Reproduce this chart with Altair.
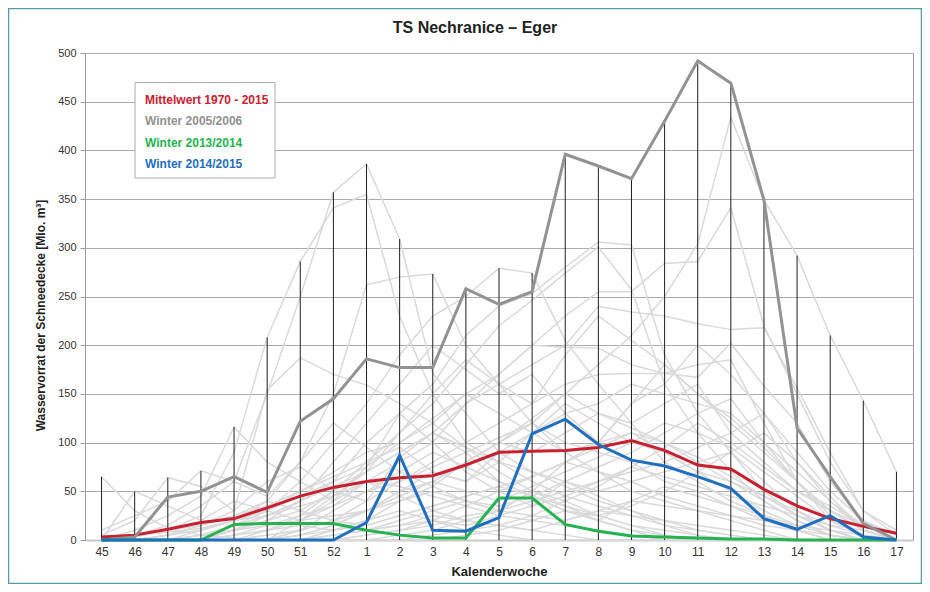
import altair as alt
import pandas as pd

chart_title = "TS Nechranice – Eger"

weeks = ["45", "46", "47", "48", "49", "50", "51", "52", "1", "2", "3", "4", "5",
         "6", "7", "8", "9", "10", "11", "12", "13", "14", "15", "16", "17"]

weekly_max = [65, 50, 64, 71, 116, 208, 286, 357, 386, 309, 273, 258, 279, 274,
              396, 384, 371, 430, 492, 469, 349, 292, 210, 143, 70]

mean_1970_2015 = [3, 5, 11, 18, 22, 33, 45, 54, 60, 64, 66, 77, 90, 91, 92, 95,
                  102, 92, 77, 73, 52, 35, 22, 14, 7]
winter_2005_06 = [0, 3, 44, 50, 65, 49, 122, 145, 186, 177, 177, 258, 242, 255,
                  396, 384, 371, 430, 492, 469, 349, 115, 65, 17, 0]
winter_2013_14 = [0, 0, 0, 0, 16, 17, 17, 17, 10, 5, 2, 2, 43, 43, 16, 9, 4, 3,
                  2, 1, 1, 0, 0, 0, 0]
winter_2014_15 = [0, 0, 0, 0, 0, 0, 0, 0, 18, 87, 10, 9, 23, 109, 124, 98, 82,
                  76, 65, 53, 22, 11, 25, 3, 0]

series_names = ["Mittelwert 1970 - 2015", "Winter 2005/2006",
                "Winter 2013/2014", "Winter 2014/2015"]
series_colors = ["#c8202f", "#929292", "#25b350", "#1f6fc1"]

other_winters = [
    [65, 30, 12, 5, 2, 0, 0, 5, 10, 15, 20, 10, 5, 0, 0, 0, 0, 0, 0, 0, 0, 0, 0, 0, 0],
    [0, 50, 35, 20, 40, 30, 20, 35, 60, 45, 30, 20, 15, 10, 5, 0, 0, 0, 0, 0, 0, 0, 0, 0, 0],
    [5, 20, 64, 55, 30, 60, 75, 50, 40, 85, 110, 90, 60, 45, 30, 20, 10, 5, 0, 0, 0, 0, 0, 0, 0],
    [10, 25, 40, 71, 60, 45, 80, 120, 95, 70, 55, 40, 30, 50, 35, 20, 10, 0, 0, 0, 0, 0, 0, 0, 0],
    [0, 10, 25, 45, 116, 80, 60, 40, 75, 130, 100, 70, 50, 35, 60, 45, 30, 15, 5, 0, 0, 0, 0, 0, 0],
    [0, 5, 15, 35, 60, 150, 250, 357, 386, 309, 171, 130, 90, 70, 55, 40, 30, 20, 10, 5, 0, 0, 0, 0, 0],
    [0, 3, 10, 25, 90, 208, 286, 341, 355, 230, 150, 100, 80, 60, 45, 35, 25, 15, 10, 5, 0, 0, 0, 0, 0],
    [0, 0, 5, 15, 30, 154, 187, 170, 159, 140, 120, 95, 70, 50, 40, 25, 15, 5, 0, 0, 0, 0, 0, 0, 0],
    [0, 0, 0, 10, 20, 40, 80, 150, 262, 270, 273, 200, 160, 120, 90, 70, 50, 40, 30, 20, 10, 0, 0, 0, 0],
    [0, 0, 0, 5, 15, 30, 60, 100, 140, 190, 230, 250, 279, 274, 205, 160, 120, 80, 60, 40, 25, 10, 0, 0, 0],
    [0, 0, 0, 0, 10, 20, 40, 60, 100, 130, 160, 210, 240, 253, 280, 306, 303, 190, 130, 90, 50, 25, 10, 0, 0],
    [0, 0, 0, 0, 5, 10, 25, 50, 80, 110, 140, 180, 220, 246, 274, 301, 257, 160, 110, 70, 40, 20, 5, 0, 0],
    [0, 0, 0, 0, 0, 10, 20, 40, 60, 80, 100, 140, 170, 200, 230, 255, 255, 284, 286, 341, 220, 150, 80, 30, 10],
    [0, 0, 0, 0, 0, 0, 10, 20, 30, 50, 60, 80, 100, 120, 150, 180, 210, 250, 304, 434, 349, 292, 210, 143, 70],
    [0, 0, 0, 5, 10, 20, 30, 50, 70, 90, 110, 140, 160, 180, 200, 240, 234, 230, 222, 216, 218, 156, 90, 30, 5],
    [0, 0, 5, 10, 20, 30, 50, 70, 90, 100, 120, 150, 170, 200, 198, 197, 180, 171, 167, 202, 158, 120, 60, 20, 0],
    [0, 0, 0, 0, 0, 5, 10, 20, 40, 60, 80, 100, 120, 140, 160, 170, 171, 171, 180, 185, 120, 60, 20, 5, 0],
    [0, 0, 0, 0, 0, 0, 5, 15, 30, 50, 70, 60, 90, 110, 130, 140, 160, 150, 140, 130, 100, 70, 40, 10, 0],
    [0, 0, 0, 0, 0, 0, 0, 10, 20, 40, 55, 80, 100, 90, 110, 130, 120, 140, 160, 110, 80, 50, 30, 15, 0],
    [0, 5, 10, 15, 25, 35, 50, 65, 80, 95, 70, 60, 80, 110, 140, 120, 100, 90, 70, 60, 40, 20, 5, 0, 0],
    [0, 0, 5, 10, 20, 30, 45, 60, 75, 100, 125, 150, 130, 110, 90, 100, 110, 90, 70, 50, 30, 15, 5, 0, 0],
    [0, 0, 0, 5, 15, 25, 40, 55, 70, 90, 110, 95, 80, 70, 60, 50, 60, 70, 80, 90, 60, 30, 10, 0, 0],
    [0, 0, 0, 0, 5, 15, 25, 35, 50, 60, 75, 90, 105, 120, 100, 90, 80, 60, 50, 35, 20, 10, 0, 0, 0],
    [0, 0, 0, 0, 0, 5, 10, 20, 30, 45, 60, 50, 40, 55, 70, 85, 100, 120, 110, 95, 70, 45, 20, 5, 0],
    [0, 0, 0, 0, 0, 0, 5, 10, 15, 25, 35, 45, 55, 65, 80, 95, 110, 100, 85, 65, 45, 25, 10, 0, 0],
    [0, 0, 0, 0, 0, 0, 0, 5, 10, 20, 30, 40, 35, 45, 60, 75, 90, 110, 130, 145, 100, 60, 25, 5, 0],
    [0, 0, 0, 0, 0, 0, 0, 0, 5, 10, 15, 25, 30, 40, 50, 60, 70, 80, 95, 110, 130, 90, 50, 20, 5],
    [0, 0, 0, 5, 10, 15, 20, 25, 30, 40, 50, 40, 30, 25, 20, 30, 40, 35, 30, 25, 20, 15, 10, 5, 0],
    [0, 0, 5, 15, 25, 40, 30, 20, 15, 25, 35, 45, 55, 45, 35, 25, 15, 10, 5, 0, 0, 0, 0, 0, 0],
    [0, 0, 0, 0, 0, 0, 10, 30, 50, 70, 90, 75, 60, 45, 30, 20, 40, 55, 45, 35, 25, 15, 5, 0, 0],
    [0, 0, 0, 0, 5, 10, 15, 10, 20, 30, 20, 15, 25, 35, 45, 60, 75, 65, 55, 45, 35, 25, 15, 10, 0],
    [0, 0, 0, 0, 0, 0, 0, 0, 0, 5, 10, 20, 30, 50, 80, 100, 140, 180, 150, 120, 90, 60, 30, 10, 0],
    [0, 0, 0, 0, 0, 0, 0, 0, 0, 0, 5, 10, 15, 25, 40, 55, 75, 95, 120, 100, 75, 50, 35, 15, 0],
    [0, 0, 0, 0, 0, 0, 0, 0, 0, 0, 0, 5, 10, 20, 30, 25, 35, 50, 70, 90, 110, 80, 45, 10, 0],
    [0, 5, 8, 12, 20, 25, 35, 45, 60, 55, 45, 35, 25, 20, 15, 10, 5, 0, 0, 0, 0, 0, 0, 0, 0],
    [0, 0, 0, 0, 0, 0, 0, 5, 10, 15, 25, 20, 15, 10, 20, 30, 25, 20, 15, 10, 5, 0, 0, 0, 0],
    [0, 0, 0, 0, 0, 0, 5, 15, 30, 45, 60, 80, 100, 125, 150, 130, 115, 100, 80, 60, 45, 30, 15, 5, 0],
    [0, 0, 0, 0, 0, 0, 0, 0, 5, 10, 20, 35, 50, 65, 80, 70, 60, 45, 35, 25, 15, 10, 5, 0, 0],
    [0, 0, 0, 0, 0, 0, 20, 45, 70, 110, 150, 185, 160, 140, 190, 230, 205, 180, 150, 125, 95, 60, 30, 10, 0],
    [0, 0, 0, 0, 10, 25, 40, 80, 120, 160, 200, 175, 150, 170, 130, 100, 140, 160, 200, 170, 130, 80, 40, 15, 0],
]

# ---- tables ----
bg_rows = []
for k, vals in enumerate(other_winters):
    for w, v in zip(weeks, vals):
        bg_rows.append({"week": w, "value": v, "winter": f"w{k}"})
bg_df = pd.DataFrame(bg_rows)

max_df = pd.DataFrame({"week": weeks, "max": weekly_max})

hl_rows = []
for name, vals in zip(series_names, [mean_1970_2015, winter_2005_06,
                                     winter_2013_14, winter_2014_15]):
    for i, (w, v) in enumerate(zip(weeks, vals)):
        hl_rows.append({"week": w, "value": v, "series": name, "i": i})
hl_df = pd.DataFrame(hl_rows)

FONT = "Liberation Sans, Arial, sans-serif"
one = pd.DataFrame({"a": [0]})

x_enc = alt.X("week:O", sort=weeks,
              scale=alt.Scale(type="point", padding=0.5),
              axis=alt.Axis(title="Kalenderwoche", labelAngle=0, labelFontSize=12,
                            labelColor="#333333", labelPadding=6, ticks=False,
                            domainColor="#c8c8c8", domainWidth=2,
                            titleFontSize=13, titleFontWeight="bold",
                            titleColor="#222222", titlePadding=8))
y_scale = alt.Scale(domain=[0, 500], nice=False)
y_axis = alt.Axis(values=list(range(0, 501, 50)),
                  title="Wasservorrat der Schneedecke  [Mio. m³]",
                  titleFont="Liberation Sans Narrow, Arial Narrow, Liberation Sans",
                  titleFontSize=12, titleFontWeight="bold", titleColor="#222222",
                  titleX=-45, titleY=262, titleBaseline="middle",
                  labelFontSize=11, labelColor="#333333", labelPadding=4,
                  tickColor="#999999", tickSize=5, domainColor="#999999",
                  gridColor="#ababab", gridWidth=1)

border = alt.Chart(one).mark_rect(
    filled=False, stroke="#4f9ca2", strokeWidth=1.5
).encode(x=alt.value(-76.5), x2=alt.value(836.5), y=alt.value(-44.5), y2=alt.value(530.5))

title_mark = alt.Chart(one).mark_text(
    align="center", baseline="middle", fontSize=16, fontWeight="bold", font=FONT,
    color="#222222", text=chart_title
).encode(x=alt.value(390), y=alt.value(-25))

bg = alt.Chart(bg_df).mark_line(color="#d9d9db", strokeWidth=1.5).encode(
    x=x_enc,
    y=alt.Y("value:Q", scale=y_scale, axis=y_axis),
    detail="winter:N",
)

rules = alt.Chart(max_df).mark_rule(color="#1e1e1e", strokeWidth=1).encode(
    x=x_enc,
    y=alt.Y("max:Q", scale=y_scale, axis=y_axis),
    y2=alt.datum(0),
)

hl = alt.Chart(hl_df).mark_line(strokeWidth=3).encode(
    x=x_enc,
    y=alt.Y("value:Q", scale=y_scale, axis=y_axis),
    color=alt.Color("series:N", scale=alt.Scale(domain=series_names, range=series_colors),
                    legend=None),
    order="i:Q",
)

legend_box = alt.Chart(one).mark_rect(
    fill="white", stroke="#aaaaaa", strokeWidth=1
).encode(x=alt.value(50), x2=alt.value(190), y=alt.value(29.5), y2=alt.value(125))

legend_y = [47, 68, 90, 110.5]
legend_texts = [
    alt.Chart(one).mark_text(
        align="left", baseline="middle", fontSize=12, fontWeight="bold", font=FONT,
        color=c, text=name
    ).encode(x=alt.value(60), y=alt.value(yy))
    for name, c, yy in zip(series_names, series_colors, legend_y)
]

chart = alt.layer(border, title_mark, bg, rules, hl, legend_box, *legend_texts).properties(
    width=828, height=487,
    autosize=alt.AutoSizeParams(type="none"),
    padding={"left": 77, "top": 45, "right": 9, "bottom": 44},
).configure(font=FONT).configure_view(stroke="#999999", strokeWidth=1)

chart.save("out.html", embed_options={"renderer": "svg", "actions": False})
